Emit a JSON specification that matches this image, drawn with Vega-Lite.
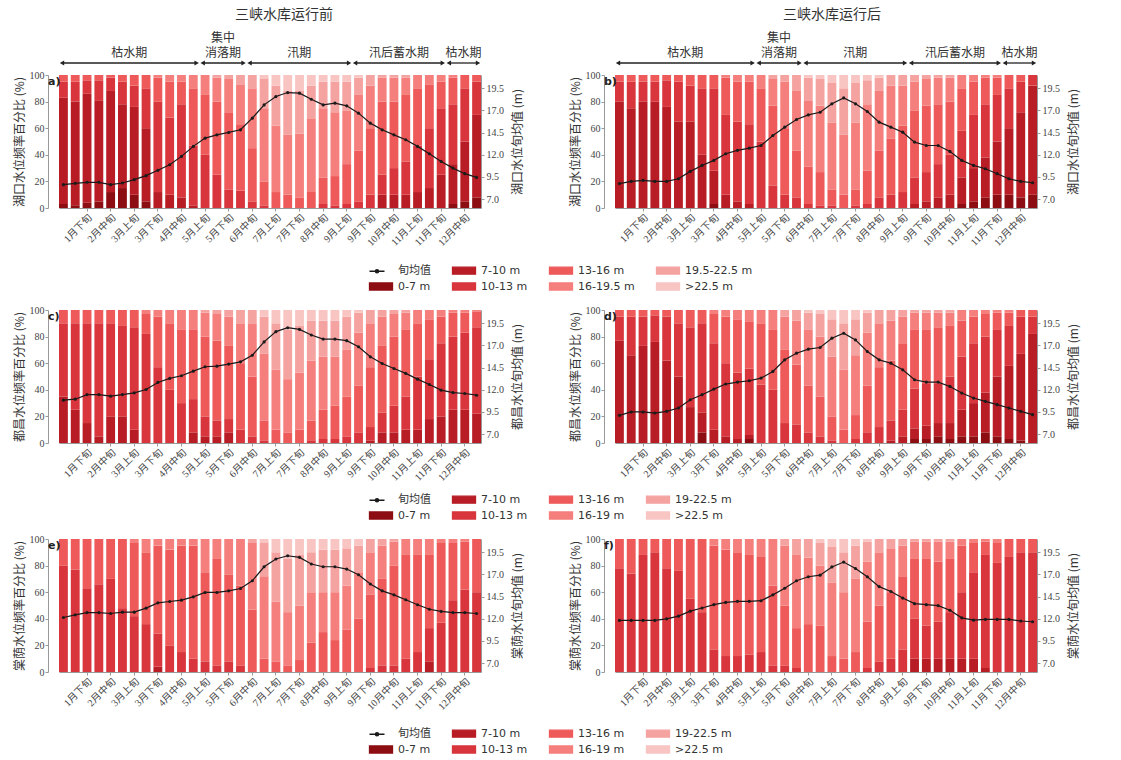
{
"$schema":"https://vega.github.io/schema/vega-lite/v6.json",
"padding":{"left":12,"top":8,"right":5,"bottom":5},
"config":{"view":{"stroke":null},"axis":{"grid":false,"domainColor":"#999","tickColor":"#999","labelColor":"#444","titleColor":"#333","labelFont":"Liberation Serif, Noto Sans CJK SC","titleFont":"Noto Sans CJK SC","titleFontWeight":"normal","labelFontSize":10,"titleFontSize":12,"tickSize":3,"labelOverlap":false,"labelBound":false},"title":{"font":"Noto Sans CJK SC","fontWeight":"normal","color":"#333"}},
"datasets":{
"periods":[{"k":1,"n":"枯水期","n2":"","s":0,"e":12},{"k":2,"n":"消落期","n2":"集中","s":12,"e":16},{"k":3,"n":"汛期","n2":"","s":16,"e":25},{"k":4,"n":"汛后蓄水期","n2":"","s":25,"e":33},{"k":5,"n":"枯水期","n2":"","s":33,"e":36}],
"bars":[
{"p":"a","d":"1月上旬","lv":8.63,"b1":3,"b2":80,"b3":12,"b4":5,"b5":0,"b6":0,"b7":0},
{"p":"a","d":"1月中旬","lv":8.78,"b1":2,"b2":78,"b3":15,"b4":5,"b5":0,"b6":0,"b7":0},
{"p":"a","d":"1月下旬","lv":8.9,"b1":4,"b2":82,"b3":10,"b4":4,"b5":0,"b6":0,"b7":0},
{"p":"a","d":"2月上旬","lv":8.9,"b1":5,"b2":76,"b3":15,"b4":4,"b5":0,"b6":0,"b7":0},
{"p":"a","d":"2月中旬","lv":8.63,"b1":12,"b2":76,"b3":10,"b4":2,"b5":0,"b6":0,"b7":0},
{"p":"a","d":"2月下旬","lv":8.82,"b1":15,"b2":63,"b3":17,"b4":5,"b5":0,"b6":0,"b7":0},
{"p":"a","d":"3月上旬","lv":9.2,"b1":10,"b2":66,"b3":16,"b4":8,"b5":0,"b6":0,"b7":0},
{"p":"a","d":"3月中旬","lv":9.65,"b1":5,"b2":55,"b3":30,"b4":10,"b5":0,"b6":0,"b7":0},
{"p":"a","d":"3月下旬","lv":10.25,"b1":0,"b2":12,"b3":68,"b4":18,"b5":2,"b6":0,"b7":0},
{"p":"a","d":"4月上旬","lv":10.88,"b1":0,"b2":10,"b3":58,"b4":27,"b5":5,"b6":0,"b7":0},
{"p":"a","d":"4月中旬","lv":11.82,"b1":0,"b2":8,"b3":70,"b4":17,"b5":5,"b6":0,"b7":0},
{"p":"a","d":"4月下旬","lv":12.95,"b1":0,"b2":2,"b3":45,"b4":43,"b5":10,"b6":0,"b7":0},
{"p":"a","d":"5月上旬","lv":13.88,"b1":0,"b2":0,"b3":40,"b4":45,"b5":15,"b6":0,"b7":0},
{"p":"a","d":"5月中旬","lv":14.25,"b1":0,"b2":0,"b3":25,"b4":55,"b5":18,"b6":2,"b7":0},
{"p":"a","d":"5月下旬","lv":14.52,"b1":0,"b2":0,"b3":14,"b4":58,"b5":25,"b6":3,"b7":0},
{"p":"a","d":"6月上旬","lv":14.82,"b1":0,"b2":0,"b3":13,"b4":50,"b5":30,"b6":7,"b7":0},
{"p":"a","d":"6月中旬","lv":16.13,"b1":0,"b2":0,"b3":5,"b4":40,"b5":45,"b6":10,"b7":0},
{"p":"a","d":"6月下旬","lv":17.63,"b1":0,"b2":0,"b3":2,"b4":18,"b5":55,"b6":22,"b7":3},
{"p":"a","d":"7月上旬","lv":18.57,"b1":0,"b2":0,"b3":0,"b4":12,"b5":50,"b6":30,"b7":8},
{"p":"a","d":"7月中旬","lv":19.02,"b1":0,"b2":0,"b3":0,"b4":10,"b5":45,"b6":33,"b7":12},
{"p":"a","d":"7月下旬","lv":18.95,"b1":0,"b2":0,"b3":0,"b4":8,"b5":48,"b6":32,"b7":12},
{"p":"a","d":"8月上旬","lv":18.27,"b1":0,"b2":0,"b3":0,"b4":12,"b5":55,"b6":25,"b7":8},
{"p":"a","d":"8月中旬","lv":17.63,"b1":0,"b2":0,"b3":3,"b4":20,"b5":52,"b6":20,"b7":5},
{"p":"a","d":"8月下旬","lv":17.82,"b1":0,"b2":0,"b3":2,"b4":22,"b5":48,"b6":23,"b7":5},
{"p":"a","d":"9月上旬","lv":17.52,"b1":0,"b2":0,"b3":3,"b4":30,"b5":40,"b6":22,"b7":5},
{"p":"a","d":"9月中旬","lv":16.7,"b1":0,"b2":0,"b3":5,"b4":38,"b5":42,"b6":13,"b7":2},
{"p":"a","d":"9月下旬","lv":15.57,"b1":0,"b2":0,"b3":10,"b4":50,"b5":32,"b6":8,"b7":0},
{"p":"a","d":"10月上旬","lv":14.82,"b1":0,"b2":10,"b3":15,"b4":55,"b5":18,"b6":2,"b7":0},
{"p":"a","d":"10月中旬","lv":14.25,"b1":0,"b2":10,"b3":20,"b4":50,"b5":18,"b6":2,"b7":0},
{"p":"a","d":"10月下旬","lv":13.7,"b1":0,"b2":10,"b3":25,"b4":50,"b5":13,"b6":2,"b7":0},
{"p":"a","d":"11月上旬","lv":12.95,"b1":0,"b2":12,"b3":35,"b4":43,"b5":10,"b6":0,"b7":0},
{"p":"a","d":"11月中旬","lv":12.12,"b1":0,"b2":15,"b3":45,"b4":33,"b5":7,"b6":0,"b7":0},
{"p":"a","d":"11月下旬","lv":11.25,"b1":0,"b2":25,"b3":50,"b4":20,"b5":5,"b6":0,"b7":0},
{"p":"a","d":"12月上旬","lv":10.5,"b1":3,"b2":30,"b3":45,"b4":20,"b5":2,"b6":0,"b7":0},
{"p":"a","d":"12月中旬","lv":9.87,"b1":5,"b2":45,"b3":40,"b4":10,"b5":0,"b6":0,"b7":0},
{"p":"a","d":"12月下旬","lv":9.45,"b1":8,"b2":62,"b3":25,"b4":5,"b5":0,"b6":0,"b7":0},
{"p":"b","d":"1月上旬","lv":8.75,"b1":0,"b2":80,"b3":15,"b4":5,"b5":0,"b6":0,"b7":0},
{"p":"b","d":"1月中旬","lv":9.0,"b1":0,"b2":75,"b3":20,"b4":5,"b5":0,"b6":0,"b7":0},
{"p":"b","d":"1月下旬","lv":9.12,"b1":0,"b2":80,"b3":15,"b4":5,"b5":0,"b6":0,"b7":0},
{"p":"b","d":"2月上旬","lv":9.0,"b1":0,"b2":80,"b3":15,"b4":5,"b5":0,"b6":0,"b7":0},
{"p":"b","d":"2月中旬","lv":9.0,"b1":0,"b2":76,"b3":20,"b4":4,"b5":0,"b6":0,"b7":0},
{"p":"b","d":"2月下旬","lv":9.3,"b1":0,"b2":65,"b3":30,"b4":5,"b5":0,"b6":0,"b7":0},
{"p":"b","d":"3月上旬","lv":10.13,"b1":0,"b2":65,"b3":27,"b4":8,"b5":0,"b6":0,"b7":0},
{"p":"b","d":"3月中旬","lv":10.8,"b1":0,"b2":40,"b3":50,"b4":10,"b5":0,"b6":0,"b7":0},
{"p":"b","d":"3月下旬","lv":11.37,"b1":3,"b2":25,"b3":62,"b4":10,"b5":0,"b6":0,"b7":0},
{"p":"b","d":"4月上旬","lv":12.12,"b1":0,"b2":10,"b3":60,"b4":28,"b5":2,"b6":0,"b7":0},
{"p":"b","d":"4月中旬","lv":12.5,"b1":0,"b2":5,"b3":60,"b4":30,"b5":5,"b6":0,"b7":0},
{"p":"b","d":"4月下旬","lv":12.75,"b1":0,"b2":3,"b3":60,"b4":32,"b5":5,"b6":0,"b7":0},
{"p":"b","d":"5月上旬","lv":13.05,"b1":0,"b2":0,"b3":50,"b4":40,"b5":10,"b6":0,"b7":0},
{"p":"b","d":"5月中旬","lv":14.18,"b1":0,"b2":0,"b3":17,"b4":60,"b5":20,"b6":3,"b7":0},
{"p":"b","d":"5月下旬","lv":15.12,"b1":0,"b2":0,"b3":10,"b4":50,"b5":35,"b6":5,"b7":0},
{"p":"b","d":"6月上旬","lv":15.98,"b1":0,"b2":0,"b3":8,"b4":35,"b5":45,"b6":12,"b7":0},
{"p":"b","d":"6月中旬","lv":16.5,"b1":0,"b2":0,"b3":3,"b4":28,"b5":50,"b6":17,"b7":2},
{"p":"b","d":"6月下旬","lv":16.8,"b1":0,"b2":0,"b3":2,"b4":25,"b5":50,"b6":20,"b7":3},
{"p":"b","d":"7月上旬","lv":17.75,"b1":0,"b2":0,"b3":2,"b4":12,"b5":50,"b6":30,"b7":6},
{"p":"b","d":"7月中旬","lv":18.42,"b1":0,"b2":0,"b3":0,"b4":10,"b5":45,"b6":35,"b7":10},
{"p":"b","d":"7月下旬","lv":17.75,"b1":0,"b2":0,"b3":2,"b4":12,"b5":50,"b6":30,"b7":6},
{"p":"b","d":"8月上旬","lv":16.88,"b1":0,"b2":0,"b3":3,"b4":25,"b5":50,"b6":18,"b7":4},
{"p":"b","d":"8月中旬","lv":15.68,"b1":0,"b2":0,"b3":8,"b4":35,"b5":45,"b6":10,"b7":2},
{"p":"b","d":"8月下旬","lv":15.12,"b1":0,"b2":0,"b3":10,"b4":42,"b5":40,"b6":8,"b7":0},
{"p":"b","d":"9月上旬","lv":14.55,"b1":0,"b2":0,"b3":12,"b4":50,"b5":30,"b6":8,"b7":0},
{"p":"b","d":"9月中旬","lv":13.43,"b1":0,"b2":3,"b3":20,"b4":50,"b5":22,"b6":5,"b7":0},
{"p":"b","d":"9月下旬","lv":13.05,"b1":0,"b2":5,"b3":22,"b4":50,"b5":20,"b6":3,"b7":0},
{"p":"b","d":"10月上旬","lv":13.05,"b1":0,"b2":8,"b3":25,"b4":45,"b5":20,"b6":2,"b7":0},
{"p":"b","d":"10月中旬","lv":12.38,"b1":0,"b2":10,"b3":30,"b4":40,"b5":18,"b6":2,"b7":0},
{"p":"b","d":"10月下旬","lv":11.37,"b1":3,"b2":20,"b3":35,"b4":32,"b5":10,"b6":0,"b7":0},
{"p":"b","d":"11月上旬","lv":10.8,"b1":5,"b2":25,"b3":40,"b4":25,"b5":5,"b6":0,"b7":0},
{"p":"b","d":"11月中旬","lv":10.43,"b1":8,"b2":30,"b3":40,"b4":20,"b5":2,"b6":0,"b7":0},
{"p":"b","d":"11月下旬","lv":9.87,"b1":10,"b2":40,"b3":35,"b4":13,"b5":2,"b6":0,"b7":0},
{"p":"b","d":"12月上旬","lv":9.3,"b1":10,"b2":50,"b3":30,"b4":10,"b5":0,"b6":0,"b7":0},
{"p":"b","d":"12月中旬","lv":9.0,"b1":8,"b2":64,"b3":23,"b4":5,"b5":0,"b6":0,"b7":0},
{"p":"b","d":"12月下旬","lv":8.85,"b1":10,"b2":82,"b3":8,"b4":0,"b5":0,"b6":0,"b7":0},
{"p":"c","d":"1月上旬","lv":10.83,"b1":0,"b2":35,"b3":55,"b4":10,"b5":0,"b6":0,"b7":0},
{"p":"c","d":"1月中旬","lv":10.94,"b1":0,"b2":25,"b3":65,"b4":10,"b5":0,"b6":0,"b7":0},
{"p":"c","d":"1月下旬","lv":11.46,"b1":0,"b2":15,"b3":75,"b4":10,"b5":0,"b6":0,"b7":0},
{"p":"c","d":"2月上旬","lv":11.46,"b1":0,"b2":5,"b3":85,"b4":10,"b5":0,"b6":0,"b7":0},
{"p":"c","d":"2月中旬","lv":11.28,"b1":0,"b2":20,"b3":70,"b4":10,"b5":0,"b6":0,"b7":0},
{"p":"c","d":"2月下旬","lv":11.46,"b1":0,"b2":20,"b3":68,"b4":12,"b5":0,"b6":0,"b7":0},
{"p":"c","d":"3月上旬","lv":11.66,"b1":0,"b2":10,"b3":77,"b4":13,"b5":0,"b6":0,"b7":0},
{"p":"c","d":"3月中旬","lv":12.03,"b1":0,"b2":0,"b3":82,"b4":15,"b5":3,"b6":0,"b7":0},
{"p":"c","d":"3月下旬","lv":12.83,"b1":0,"b2":0,"b3":57,"b4":38,"b5":5,"b6":0,"b7":0},
{"p":"c","d":"4月上旬","lv":13.28,"b1":0,"b2":0,"b3":40,"b4":50,"b5":10,"b6":0,"b7":0},
{"p":"c","d":"4月中旬","lv":13.58,"b1":0,"b2":0,"b3":30,"b4":55,"b5":15,"b6":0,"b7":0},
{"p":"c","d":"4月下旬","lv":14.1,"b1":0,"b2":8,"b3":25,"b4":52,"b5":15,"b6":0,"b7":0},
{"p":"c","d":"5月上旬","lv":14.6,"b1":0,"b2":5,"b3":15,"b4":60,"b5":18,"b6":2,"b7":0},
{"p":"c","d":"5月中旬","lv":14.67,"b1":0,"b2":5,"b3":12,"b4":60,"b5":20,"b6":3,"b7":0},
{"p":"c","d":"5月下旬","lv":14.9,"b1":0,"b2":8,"b3":10,"b4":55,"b5":22,"b6":5,"b7":0},
{"p":"c","d":"6月上旬","lv":15.15,"b1":0,"b2":0,"b3":10,"b4":50,"b5":30,"b6":10,"b7":0},
{"p":"c","d":"6月中旬","lv":15.9,"b1":0,"b2":0,"b3":5,"b4":45,"b5":40,"b6":10,"b7":0},
{"p":"c","d":"6月下旬","lv":17.4,"b1":0,"b2":0,"b3":2,"b4":15,"b5":50,"b6":28,"b7":5},
{"p":"c","d":"7月上旬","lv":18.56,"b1":0,"b2":0,"b3":0,"b4":10,"b5":45,"b6":35,"b7":10},
{"p":"c","d":"7月中旬","lv":19.0,"b1":0,"b2":0,"b3":0,"b4":8,"b5":40,"b6":37,"b7":15},
{"p":"c","d":"7月下旬","lv":18.81,"b1":0,"b2":0,"b3":0,"b4":10,"b5":43,"b6":35,"b7":12},
{"p":"c","d":"8月上旬","lv":18.18,"b1":0,"b2":0,"b3":2,"b4":15,"b5":45,"b6":30,"b7":8},
{"p":"c","d":"8月中旬","lv":17.72,"b1":0,"b2":0,"b3":3,"b4":22,"b5":40,"b6":27,"b7":8},
{"p":"c","d":"8月下旬","lv":17.72,"b1":0,"b2":0,"b3":3,"b4":25,"b5":37,"b6":27,"b7":8},
{"p":"c","d":"9月上旬","lv":17.54,"b1":0,"b2":0,"b3":5,"b4":30,"b5":35,"b6":25,"b7":5},
{"p":"c","d":"9月中旬","lv":16.86,"b1":0,"b2":0,"b3":8,"b4":35,"b5":40,"b6":15,"b7":2},
{"p":"c","d":"9月下旬","lv":15.72,"b1":0,"b2":2,"b3":10,"b4":45,"b5":33,"b6":10,"b7":0},
{"p":"c","d":"10月上旬","lv":14.97,"b1":0,"b2":8,"b3":15,"b4":50,"b5":22,"b6":5,"b7":0},
{"p":"c","d":"10月中旬","lv":14.4,"b1":0,"b2":8,"b3":20,"b4":52,"b5":17,"b6":3,"b7":0},
{"p":"c","d":"10月下旬","lv":13.85,"b1":0,"b2":10,"b3":25,"b4":50,"b5":13,"b6":2,"b7":0},
{"p":"c","d":"11月上旬","lv":13.2,"b1":0,"b2":10,"b3":40,"b4":40,"b5":10,"b6":0,"b7":0},
{"p":"c","d":"11月中旬","lv":12.6,"b1":0,"b2":18,"b3":45,"b4":30,"b5":7,"b6":0,"b7":0},
{"p":"c","d":"11月下旬","lv":11.96,"b1":0,"b2":20,"b3":55,"b4":20,"b5":5,"b6":0,"b7":0},
{"p":"c","d":"12月上旬","lv":11.69,"b1":0,"b2":25,"b3":55,"b4":18,"b5":2,"b6":0,"b7":0},
{"p":"c","d":"12月中旬","lv":11.58,"b1":0,"b2":25,"b3":58,"b4":15,"b5":2,"b6":0,"b7":0},
{"p":"c","d":"12月下旬","lv":11.39,"b1":0,"b2":22,"b3":65,"b4":12,"b5":1,"b6":0,"b7":0},
{"p":"d","d":"1月上旬","lv":9.12,"b1":0,"b2":77,"b3":18,"b4":5,"b5":0,"b6":0,"b7":0},
{"p":"d","d":"1月中旬","lv":9.5,"b1":0,"b2":66,"b3":29,"b4":5,"b5":0,"b6":0,"b7":0},
{"p":"d","d":"1月下旬","lv":9.5,"b1":0,"b2":73,"b3":22,"b4":5,"b5":0,"b6":0,"b7":0},
{"p":"d","d":"2月上旬","lv":9.38,"b1":0,"b2":76,"b3":20,"b4":4,"b5":0,"b6":0,"b7":0},
{"p":"d","d":"2月中旬","lv":9.57,"b1":0,"b2":62,"b3":33,"b4":5,"b5":0,"b6":0,"b7":0},
{"p":"d","d":"2月下旬","lv":9.95,"b1":0,"b2":50,"b3":40,"b4":10,"b5":0,"b6":0,"b7":0},
{"p":"d","d":"3月上旬","lv":10.88,"b1":0,"b2":27,"b3":60,"b4":13,"b5":0,"b6":0,"b7":0},
{"p":"d","d":"3月中旬","lv":11.45,"b1":8,"b2":15,"b3":67,"b4":10,"b5":0,"b6":0,"b7":0},
{"p":"d","d":"3月下旬","lv":12.08,"b1":0,"b2":10,"b3":65,"b4":22,"b5":3,"b6":0,"b7":0},
{"p":"d","d":"4月上旬","lv":12.65,"b1":0,"b2":5,"b3":55,"b4":35,"b5":5,"b6":0,"b7":0},
{"p":"d","d":"4月中旬","lv":12.87,"b1":0,"b2":3,"b3":50,"b4":40,"b5":7,"b6":0,"b7":0},
{"p":"d","d":"4月下旬","lv":13.02,"b1":3,"b2":3,"b3":50,"b4":35,"b5":9,"b6":0,"b7":0},
{"p":"d","d":"5月上旬","lv":13.32,"b1":0,"b2":0,"b3":44,"b4":46,"b5":10,"b6":0,"b7":0},
{"p":"d","d":"5月中旬","lv":14.07,"b1":0,"b2":0,"b3":40,"b4":45,"b5":15,"b6":0,"b7":0},
{"p":"d","d":"5月下旬","lv":15.38,"b1":0,"b2":0,"b3":15,"b4":55,"b5":25,"b6":5,"b7":0},
{"p":"d","d":"6月上旬","lv":16.13,"b1":0,"b2":0,"b3":14,"b4":45,"b5":33,"b6":8,"b7":0},
{"p":"d","d":"6月中旬","lv":16.58,"b1":0,"b2":0,"b3":8,"b4":35,"b5":42,"b6":13,"b7":2},
{"p":"d","d":"6月下旬","lv":16.77,"b1":0,"b2":0,"b3":5,"b4":30,"b5":45,"b6":17,"b7":3},
{"p":"d","d":"7月上旬","lv":17.82,"b1":0,"b2":0,"b3":2,"b4":18,"b5":45,"b6":28,"b7":7},
{"p":"d","d":"7月中旬","lv":18.38,"b1":0,"b2":0,"b3":0,"b4":10,"b5":45,"b6":35,"b7":10},
{"p":"d","d":"7月下旬","lv":17.63,"b1":0,"b2":0,"b3":3,"b4":18,"b5":45,"b6":27,"b7":7},
{"p":"d","d":"8月上旬","lv":16.32,"b1":0,"b2":0,"b3":8,"b4":35,"b5":40,"b6":15,"b7":2},
{"p":"d","d":"8月中旬","lv":15.38,"b1":0,"b2":0,"b3":12,"b4":45,"b5":33,"b6":10,"b7":0},
{"p":"d","d":"8月下旬","lv":15.0,"b1":0,"b2":2,"b3":15,"b4":45,"b5":30,"b6":8,"b7":0},
{"p":"d","d":"9月上旬","lv":14.25,"b1":0,"b2":5,"b3":20,"b4":50,"b5":20,"b6":5,"b7":0},
{"p":"d","d":"9月中旬","lv":13.13,"b1":3,"b2":8,"b3":30,"b4":44,"b5":13,"b6":2,"b7":0},
{"p":"d","d":"9月下旬","lv":12.87,"b1":3,"b2":10,"b3":32,"b4":40,"b5":13,"b6":2,"b7":0},
{"p":"d","d":"10月上旬","lv":12.87,"b1":5,"b2":10,"b3":30,"b4":42,"b5":11,"b6":2,"b7":0},
{"p":"d","d":"10月中旬","lv":12.38,"b1":3,"b2":12,"b3":35,"b4":38,"b5":10,"b6":2,"b7":0},
{"p":"d","d":"10月下旬","lv":11.63,"b1":5,"b2":20,"b3":40,"b4":27,"b5":8,"b6":0,"b7":0},
{"p":"d","d":"11月上旬","lv":11.07,"b1":5,"b2":25,"b3":45,"b4":20,"b5":5,"b6":0,"b7":0},
{"p":"d","d":"11月中旬","lv":10.7,"b1":8,"b2":30,"b3":42,"b4":17,"b5":3,"b6":0,"b7":0},
{"p":"d","d":"11月下旬","lv":10.32,"b1":5,"b2":45,"b3":35,"b4":13,"b5":2,"b6":0,"b7":0},
{"p":"d","d":"12月上旬","lv":9.95,"b1":3,"b2":55,"b3":30,"b4":10,"b5":2,"b6":0,"b7":0},
{"p":"d","d":"12月中旬","lv":9.57,"b1":2,"b2":65,"b3":28,"b4":5,"b5":0,"b6":0,"b7":0},
{"p":"d","d":"12月下旬","lv":9.2,"b1":0,"b2":82,"b3":13,"b4":5,"b5":0,"b6":0,"b7":0},
{"p":"e","d":"1月上旬","lv":12.15,"b1":0,"b2":0,"b3":80,"b4":20,"b5":0,"b6":0,"b7":0},
{"p":"e","d":"1月中旬","lv":12.45,"b1":0,"b2":0,"b3":77,"b4":23,"b5":0,"b6":0,"b7":0},
{"p":"e","d":"1月下旬","lv":12.7,"b1":0,"b2":0,"b3":63,"b4":37,"b5":0,"b6":0,"b7":0},
{"p":"e","d":"2月上旬","lv":12.7,"b1":0,"b2":0,"b3":66,"b4":34,"b5":0,"b6":0,"b7":0},
{"p":"e","d":"2月中旬","lv":12.6,"b1":0,"b2":0,"b3":70,"b4":30,"b5":0,"b6":0,"b7":0},
{"p":"e","d":"2月下旬","lv":12.75,"b1":0,"b2":0,"b3":48,"b4":52,"b5":0,"b6":0,"b7":0},
{"p":"e","d":"3月上旬","lv":12.75,"b1":0,"b2":0,"b3":42,"b4":55,"b5":3,"b6":0,"b7":0},
{"p":"e","d":"3月中旬","lv":13.2,"b1":0,"b2":0,"b3":36,"b4":54,"b5":10,"b6":0,"b7":0},
{"p":"e","d":"3月下旬","lv":13.8,"b1":0,"b2":4,"b3":25,"b4":66,"b5":5,"b6":0,"b7":0},
{"p":"e","d":"4月上旬","lv":13.95,"b1":0,"b2":0,"b3":20,"b4":72,"b5":8,"b6":0,"b7":0},
{"p":"e","d":"4月中旬","lv":14.1,"b1":0,"b2":0,"b3":15,"b4":80,"b5":5,"b6":0,"b7":0},
{"p":"e","d":"4月下旬","lv":14.48,"b1":0,"b2":0,"b3":10,"b4":85,"b5":5,"b6":0,"b7":0},
{"p":"e","d":"5月上旬","lv":14.97,"b1":0,"b2":0,"b3":8,"b4":67,"b5":25,"b6":0,"b7":0},
{"p":"e","d":"5月中旬","lv":14.97,"b1":0,"b2":0,"b3":5,"b4":80,"b5":15,"b6":0,"b7":0},
{"p":"e","d":"5月下旬","lv":15.15,"b1":0,"b2":0,"b3":8,"b4":65,"b5":27,"b6":0,"b7":0},
{"p":"e","d":"6月上旬","lv":15.42,"b1":0,"b2":0,"b3":5,"b4":60,"b5":35,"b6":0,"b7":0},
{"p":"e","d":"6月中旬","lv":16.29,"b1":0,"b2":0,"b3":0,"b4":47,"b5":50,"b6":3,"b7":0},
{"p":"e","d":"6月下旬","lv":17.87,"b1":0,"b2":0,"b3":0,"b4":10,"b5":62,"b6":25,"b7":3},
{"p":"e","d":"7月上旬","lv":18.74,"b1":0,"b2":0,"b3":0,"b4":8,"b5":45,"b6":37,"b7":10},
{"p":"e","d":"7月中旬","lv":19.11,"b1":0,"b2":0,"b3":0,"b4":5,"b5":40,"b6":40,"b7":15},
{"p":"e","d":"7月下旬","lv":18.93,"b1":0,"b2":0,"b3":0,"b4":9,"b5":41,"b6":38,"b7":12},
{"p":"e","d":"8月上旬","lv":18.18,"b1":0,"b2":0,"b3":0,"b4":22,"b5":38,"b6":30,"b7":10},
{"p":"e","d":"8月中旬","lv":17.87,"b1":0,"b2":0,"b3":0,"b4":30,"b5":30,"b6":32,"b7":8},
{"p":"e","d":"8月下旬","lv":17.87,"b1":0,"b2":0,"b3":0,"b4":24,"b5":36,"b6":32,"b7":8},
{"p":"e","d":"9月上旬","lv":17.61,"b1":0,"b2":0,"b3":0,"b4":32,"b5":33,"b6":28,"b7":7},
{"p":"e","d":"9月中旬","lv":16.97,"b1":0,"b2":0,"b3":0,"b4":40,"b5":35,"b6":20,"b7":5},
{"p":"e","d":"9月下旬","lv":15.92,"b1":0,"b2":0,"b3":3,"b4":55,"b5":32,"b6":10,"b7":0},
{"p":"e","d":"10月上旬","lv":15.15,"b1":0,"b2":0,"b3":5,"b4":65,"b5":25,"b6":5,"b7":0},
{"p":"e","d":"10月中旬","lv":14.7,"b1":0,"b2":0,"b3":5,"b4":75,"b5":18,"b6":2,"b7":0},
{"p":"e","d":"10月下旬","lv":14.15,"b1":0,"b2":0,"b3":10,"b4":78,"b5":12,"b6":0,"b7":0},
{"p":"e","d":"11月上旬","lv":13.58,"b1":0,"b2":0,"b3":15,"b4":73,"b5":12,"b6":0,"b7":0},
{"p":"e","d":"11月中旬","lv":13.08,"b1":0,"b2":8,"b3":25,"b4":55,"b5":12,"b6":0,"b7":0},
{"p":"e","d":"11月下旬","lv":12.83,"b1":0,"b2":0,"b3":37,"b4":60,"b5":3,"b6":0,"b7":0},
{"p":"e","d":"12月上旬","lv":12.7,"b1":0,"b2":0,"b3":54,"b4":43,"b5":3,"b6":0,"b7":0},
{"p":"e","d":"12月中旬","lv":12.7,"b1":0,"b2":0,"b3":62,"b4":36,"b5":2,"b6":0,"b7":0},
{"p":"e","d":"12月下旬","lv":12.6,"b1":0,"b2":0,"b3":60,"b4":40,"b5":0,"b6":0,"b7":0},
{"p":"f","d":"1月上旬","lv":11.82,"b1":0,"b2":0,"b3":78,"b4":22,"b5":0,"b6":0,"b7":0},
{"p":"f","d":"1月中旬","lv":11.82,"b1":0,"b2":0,"b3":74,"b4":26,"b5":0,"b6":0,"b7":0},
{"p":"f","d":"1月下旬","lv":11.82,"b1":0,"b2":0,"b3":88,"b4":12,"b5":0,"b6":0,"b7":0},
{"p":"f","d":"2月上旬","lv":11.82,"b1":0,"b2":0,"b3":90,"b4":10,"b5":0,"b6":0,"b7":0},
{"p":"f","d":"2月中旬","lv":12.0,"b1":0,"b2":0,"b3":78,"b4":22,"b5":0,"b6":0,"b7":0},
{"p":"f","d":"2月下旬","lv":12.3,"b1":0,"b2":0,"b3":76,"b4":24,"b5":0,"b6":0,"b7":0},
{"p":"f","d":"3月上旬","lv":12.86,"b1":0,"b2":0,"b3":55,"b4":45,"b5":0,"b6":0,"b7":0},
{"p":"f","d":"3月中旬","lv":13.22,"b1":0,"b2":0,"b3":45,"b4":55,"b5":0,"b6":0,"b7":0},
{"p":"f","d":"3月下旬","lv":13.59,"b1":0,"b2":0,"b3":17,"b4":78,"b5":5,"b6":0,"b7":0},
{"p":"f","d":"4月上旬","lv":13.85,"b1":0,"b2":0,"b3":12,"b4":80,"b5":8,"b6":0,"b7":0},
{"p":"f","d":"4月中旬","lv":13.97,"b1":0,"b2":0,"b3":12,"b4":78,"b5":10,"b6":0,"b7":0},
{"p":"f","d":"4月下旬","lv":13.97,"b1":0,"b2":0,"b3":13,"b4":75,"b5":12,"b6":0,"b7":0},
{"p":"f","d":"5月上旬","lv":14.04,"b1":0,"b2":0,"b3":15,"b4":72,"b5":13,"b6":0,"b7":0},
{"p":"f","d":"5月中旬","lv":14.7,"b1":0,"b2":0,"b3":5,"b4":60,"b5":35,"b6":0,"b7":0},
{"p":"f","d":"5月下旬","lv":15.45,"b1":0,"b2":0,"b3":5,"b4":45,"b5":45,"b6":5,"b7":0},
{"p":"f","d":"6月上旬","lv":16.29,"b1":0,"b2":0,"b3":3,"b4":30,"b5":55,"b6":12,"b7":0},
{"p":"f","d":"6月中旬","lv":16.74,"b1":0,"b2":0,"b3":0,"b4":36,"b5":50,"b6":14,"b7":0},
{"p":"f","d":"6月下旬","lv":16.92,"b1":0,"b2":0,"b3":0,"b4":35,"b5":45,"b6":17,"b7":3},
{"p":"f","d":"7月上旬","lv":17.85,"b1":0,"b2":0,"b3":0,"b4":12,"b5":55,"b6":27,"b7":6},
{"p":"f","d":"7月中旬","lv":18.4,"b1":0,"b2":0,"b3":0,"b4":10,"b5":50,"b6":30,"b7":10},
{"p":"f","d":"7月下旬","lv":17.67,"b1":0,"b2":0,"b3":0,"b4":15,"b5":55,"b6":25,"b7":5},
{"p":"f","d":"8月上旬","lv":16.74,"b1":0,"b2":0,"b3":3,"b4":35,"b5":45,"b6":15,"b7":2},
{"p":"f","d":"8月中旬","lv":15.63,"b1":0,"b2":0,"b3":8,"b4":42,"b5":40,"b6":10,"b7":0},
{"p":"f","d":"8月下旬","lv":15.08,"b1":0,"b2":0,"b3":10,"b4":50,"b5":33,"b6":7,"b7":0},
{"p":"f","d":"9月上旬","lv":14.34,"b1":0,"b2":0,"b3":17,"b4":55,"b5":23,"b6":5,"b7":0},
{"p":"f","d":"9月中旬","lv":13.71,"b1":0,"b2":10,"b3":30,"b4":45,"b5":13,"b6":2,"b7":0},
{"p":"f","d":"9月下旬","lv":13.59,"b1":0,"b2":10,"b3":25,"b4":50,"b5":13,"b6":2,"b7":0},
{"p":"f","d":"10月上旬","lv":13.49,"b1":0,"b2":10,"b3":28,"b4":45,"b5":15,"b6":2,"b7":0},
{"p":"f","d":"10月中旬","lv":12.96,"b1":0,"b2":10,"b3":35,"b4":40,"b5":13,"b6":2,"b7":0},
{"p":"f","d":"10月下旬","lv":12.11,"b1":0,"b2":10,"b3":50,"b4":35,"b5":5,"b6":0,"b7":0},
{"p":"f","d":"11月上旬","lv":11.85,"b1":0,"b2":10,"b3":65,"b4":22,"b5":3,"b6":0,"b7":0},
{"p":"f","d":"11月中旬","lv":11.93,"b1":0,"b2":3,"b3":85,"b4":10,"b5":2,"b6":0,"b7":0},
{"p":"f","d":"11月下旬","lv":11.93,"b1":0,"b2":0,"b3":82,"b4":15,"b5":3,"b6":0,"b7":0},
{"p":"f","d":"12月上旬","lv":11.93,"b1":0,"b2":0,"b3":87,"b4":13,"b5":0,"b6":0,"b7":0},
{"p":"f","d":"12月中旬","lv":11.75,"b1":0,"b2":0,"b3":90,"b4":10,"b5":0,"b6":0,"b7":0},
{"p":"f","d":"12月下旬","lv":11.67,"b1":0,"b2":0,"b3":90,"b4":10,"b5":0,"b6":0,"b7":0}
]},
"vconcat":[
 {"concat":[
   {"width":422,"height":24,"data":{"name":"periods"},
    "title":{"text":"三峡水库运行前","frame":"group","offset":10,"fontSize":14,"dx":14},
    "layer":[
     {"mark":{"type":"rule","strokeWidth":1.3,"color":"#222","xOffset":3,"x2Offset":-3},"encoding":{"x":{"field":"s","type":"quantitative","scale":{"domain":[0,36],"nice":false,"zero":false},"axis":null},"x2":{"field":"e"}}},
     {"mark":{"type":"point","shape":"triangle-left","filled":true,"size":26,"color":"#222","opacity":1,"xOffset":3},"encoding":{"x":{"field":"s","type":"quantitative","scale":{"domain":[0,36],"nice":false,"zero":false},"axis":null}}},
     {"mark":{"type":"point","shape":"triangle-right","filled":true,"size":26,"color":"#222","opacity":1,"xOffset":-3},"encoding":{"x":{"field":"e","type":"quantitative","scale":{"domain":[0,36],"nice":false,"zero":false},"axis":null}}},
     {"transform":[{"fold":["s","e"],"as":["w","v"]}],"mark":{"type":"text","baseline":"bottom","dy":-3,"fontSize":12,"font":"Noto Sans CJK SC","color":"#333"},"encoding":{"x":{"aggregate":"mean","field":"v","type":"quantitative","scale":{"domain":[0,36],"nice":false,"zero":false},"axis":null},"text":{"field":"n","type":"nominal"},"detail":{"field":"k","type":"nominal"}}},
     {"transform":[{"fold":["s","e"],"as":["w","v"]}],"mark":{"type":"text","baseline":"bottom","dy":-18,"fontSize":12,"font":"Noto Sans CJK SC","color":"#333"},"encoding":{"x":{"aggregate":"mean","field":"v","type":"quantitative","scale":{"domain":[0,36],"nice":false,"zero":false},"axis":null},"text":{"field":"n2","type":"nominal"},"detail":{"field":"k","type":"nominal"}}}
    ]},
   {"width":422,"height":24,"data":{"name":"periods"},
    "title":{"text":"三峡水库运行后","frame":"group","offset":10,"fontSize":14,"dx":6},
    "layer":[
     {"mark":{"type":"rule","strokeWidth":1.3,"color":"#222","xOffset":3,"x2Offset":-3},"encoding":{"x":{"field":"s","type":"quantitative","scale":{"domain":[0,36],"nice":false,"zero":false},"axis":null},"x2":{"field":"e"}}},
     {"mark":{"type":"point","shape":"triangle-left","filled":true,"size":26,"color":"#222","opacity":1,"xOffset":3},"encoding":{"x":{"field":"s","type":"quantitative","scale":{"domain":[0,36],"nice":false,"zero":false},"axis":null}}},
     {"mark":{"type":"point","shape":"triangle-right","filled":true,"size":26,"color":"#222","opacity":1,"xOffset":-3},"encoding":{"x":{"field":"e","type":"quantitative","scale":{"domain":[0,36],"nice":false,"zero":false},"axis":null}}},
     {"transform":[{"fold":["s","e"],"as":["w","v"]}],"mark":{"type":"text","baseline":"bottom","dy":-3,"fontSize":12,"font":"Noto Sans CJK SC","color":"#333"},"encoding":{"x":{"aggregate":"mean","field":"v","type":"quantitative","scale":{"domain":[0,36],"nice":false,"zero":false},"axis":null},"text":{"field":"n","type":"nominal"},"detail":{"field":"k","type":"nominal"}}},
     {"transform":[{"fold":["s","e"],"as":["w","v"]}],"mark":{"type":"text","baseline":"bottom","dy":-18,"fontSize":12,"font":"Noto Sans CJK SC","color":"#333"},"encoding":{"x":{"aggregate":"mean","field":"v","type":"quantitative","scale":{"domain":[0,36],"nice":false,"zero":false},"axis":null},"text":{"field":"n2","type":"nominal"},"detail":{"field":"k","type":"nominal"}}}
    ]},
   {"width":422,"height":133,"data":{"name":"bars"},"transform":[{"filter":"datum.p==='a'"}],
    "title":{"text":"a)","anchor":"start","frame":"group","offset":-17,"dx":-11,"fontSize":11,"fontWeight":"bold","font":"DejaVu Sans","color":"#222"},
    "layer":[
     {"transform":[{"fold":["b1","b2","b3","b4","b5","b6","b7"],"as":["band","pct"]}],"mark":{"type":"bar"},
      "encoding":{
       "x":{"field":"d","type":"ordinal","scale":{"domain":["1月上旬","1月中旬","1月下旬","2月上旬","2月中旬","2月下旬","3月上旬","3月中旬","3月下旬","4月上旬","4月中旬","4月下旬","5月上旬","5月中旬","5月下旬","6月上旬","6月中旬","6月下旬","7月上旬","7月中旬","7月下旬","8月上旬","8月中旬","8月下旬","9月上旬","9月中旬","9月下旬","10月上旬","10月中旬","10月下旬","11月上旬","11月中旬","11月下旬","12月上旬","12月中旬","12月下旬"],"paddingInner":0.25,"paddingOuter":0},"axis":{"values":["1月上旬","1月下旬","2月中旬","3月上旬","3月下旬","4月中旬","5月上旬","5月下旬","6月中旬","7月上旬","7月下旬","8月中旬","9月上旬","9月下旬","10月中旬","11月上旬","11月下旬","12月中旬"],"labelAngle":-45,"title":null,"labelPadding":1}},
       "y":{"field":"pct","type":"quantitative","stack":"zero","scale":{"domain":[0,100],"nice":false},"axis":{"values":[0,20,40,60,80,100],"title":"湖口水位频率百分比 (%)","offset":11,"labelPadding":1,"titlePadding":3}},
       "color":{"field":"band","type":"nominal","scale":{"domain":["旬均值","b1","b2","b3","b4","b5","b6","b7"],"range":["#1a1a1a","#8c0d12","#b81c24","#d8353c","#ee5a5a","#f57f7d","#f5a3a1","#f8c5c3"]},
        "legend":{"title":null,"orient":"none","legendX":309,"legendY":214,"direction":"vertical","columns":4,"columnPadding":18,"rowPadding":3,"symbolSize":64,"symbolType":"M-1,-0.875L4.75,-0.875L4.75,0.875L-1,0.875Z","labelOffset":19,"labelFontSize":11,"labelFont":"DejaVu Sans, Noto Sans CJK SC","labelColor":"#333","labelLimit":200,
         "labelExpr":"datum.label==='旬均值'?'旬均值':['0-7 m','7-10 m','10-13 m','13-16 m','16-19.5 m','19.5-22.5 m','>22.5 m'][toNumber(substring(datum.label,1))-1]",
         "encode":{"symbols":{"update":{"shape":{"signal":"datum.value==='旬均值'?'M-1,0L2.75,0M1.275,0A0.4,0.4,0,1,1,0.475,0A0.4,0.4,0,1,1,1.275,0Z':'M-1,-0.875L4.75,-0.875L4.75,0.875L-1,0.875Z'"},"fill":{"signal":"datum.value==='旬均值'?'#1a1a1a':datum.value==='b1'?'#8c0d12':datum.value==='b2'?'#b81c24':datum.value==='b3'?'#d8353c':datum.value==='b4'?'#ee5a5a':datum.value==='b5'?'#f57f7d':datum.value==='b6'?'#f5a3a1':'#f8c5c3'"},"stroke":{"signal":"datum.value==='旬均值'?'#1a1a1a':'transparent'"},"strokeWidth":{"value":1.3},"opacity":{"value":1}}}}}},
       "order":{"field":"band","type":"ordinal","sort":"ascending"}}},
     {"mark":{"type":"line","strokeWidth":1.2,"point":{"filled":true,"size":10}},
      "encoding":{
       "x":{"field":"d","type":"ordinal"},
       "y":{"field":"lv","type":"quantitative","scale":{"domain":[6,21],"nice":false,"zero":false},"axis":{"orient":"right","values":[7,9.5,12,14.5,17,19.5],"format":".1f","title":"湖口水位旬均值 (m)","titleAngle":270,"titleBaseline":"top","labelPadding":2,"titlePadding":9}},
       "color":{"datum":"旬均值","type":"nominal"}}}
    ],"resolve":{"scale":{"y":"independent"}}},
   {"width":422,"height":133,"data":{"name":"bars"},"transform":[{"filter":"datum.p==='b'"}],
    "title":{"text":"b)","anchor":"start","frame":"group","offset":-17,"dx":-11,"fontSize":11,"fontWeight":"bold","font":"DejaVu Sans","color":"#222"},
    "layer":[
     {"transform":[{"fold":["b1","b2","b3","b4","b5","b6","b7"],"as":["band","pct"]}],"mark":{"type":"bar"},
      "encoding":{
       "x":{"field":"d","type":"ordinal","scale":{"domain":["1月上旬","1月中旬","1月下旬","2月上旬","2月中旬","2月下旬","3月上旬","3月中旬","3月下旬","4月上旬","4月中旬","4月下旬","5月上旬","5月中旬","5月下旬","6月上旬","6月中旬","6月下旬","7月上旬","7月中旬","7月下旬","8月上旬","8月中旬","8月下旬","9月上旬","9月中旬","9月下旬","10月上旬","10月中旬","10月下旬","11月上旬","11月中旬","11月下旬","12月上旬","12月中旬","12月下旬"],"paddingInner":0.25,"paddingOuter":0},"axis":{"values":["1月上旬","1月下旬","2月中旬","3月上旬","3月下旬","4月中旬","5月上旬","5月下旬","6月中旬","7月上旬","7月下旬","8月中旬","9月上旬","9月下旬","10月中旬","11月上旬","11月下旬","12月中旬"],"labelAngle":-45,"title":null,"labelPadding":1}},
       "y":{"field":"pct","type":"quantitative","stack":"zero","scale":{"domain":[0,100],"nice":false},"axis":{"values":[0,20,40,60,80,100],"title":"湖口水位频率百分比 (%)","offset":11,"labelPadding":1,"titlePadding":3}},
       "color":{"field":"band","type":"nominal","scale":{"domain":["旬均值","b1","b2","b3","b4","b5","b6","b7"],"range":["#1a1a1a","#8c0d12","#b81c24","#d8353c","#ee5a5a","#f57f7d","#f5a3a1","#f8c5c3"]},
        "legend":{"title":null,"orient":"none","legendX":309,"legendY":214,"direction":"vertical","columns":4,"columnPadding":18,"rowPadding":3,"symbolSize":64,"symbolType":"M-1,-0.875L4.75,-0.875L4.75,0.875L-1,0.875Z","labelOffset":19,"labelFontSize":11,"labelFont":"DejaVu Sans, Noto Sans CJK SC","labelColor":"#333","labelLimit":200,
         "labelExpr":"datum.label==='旬均值'?'旬均值':['0-7 m','7-10 m','10-13 m','13-16 m','16-19.5 m','19.5-22.5 m','>22.5 m'][toNumber(substring(datum.label,1))-1]",
         "encode":{"symbols":{"update":{"shape":{"signal":"datum.value==='旬均值'?'M-1,0L2.75,0M1.275,0A0.4,0.4,0,1,1,0.475,0A0.4,0.4,0,1,1,1.275,0Z':'M-1,-0.875L4.75,-0.875L4.75,0.875L-1,0.875Z'"},"fill":{"signal":"datum.value==='旬均值'?'#1a1a1a':datum.value==='b1'?'#8c0d12':datum.value==='b2'?'#b81c24':datum.value==='b3'?'#d8353c':datum.value==='b4'?'#ee5a5a':datum.value==='b5'?'#f57f7d':datum.value==='b6'?'#f5a3a1':'#f8c5c3'"},"stroke":{"signal":"datum.value==='旬均值'?'#1a1a1a':'transparent'"},"strokeWidth":{"value":1.3},"opacity":{"value":1}}}}}},
       "order":{"field":"band","type":"ordinal","sort":"ascending"}}},
     {"mark":{"type":"line","strokeWidth":1.2,"point":{"filled":true,"size":10}},
      "encoding":{
       "x":{"field":"d","type":"ordinal"},
       "y":{"field":"lv","type":"quantitative","scale":{"domain":[6,21],"nice":false,"zero":false},"axis":{"orient":"right","values":[7,9.5,12,14.5,17,19.5],"format":".1f","title":"湖口水位旬均值 (m)","titleAngle":270,"titleBaseline":"top","labelPadding":2,"titlePadding":9}},
       "color":{"datum":"旬均值","type":"nominal"}}}
    ],"resolve":{"scale":{"y":"independent"}}}
 ],"columns":2,"spacing":{"row":0,"column":134},"bounds":"flush"},
 {"hconcat":[
   {"width":422,"height":133,"data":{"name":"bars"},"transform":[{"filter":"datum.p==='c'"}],
    "title":{"text":"c)","anchor":"start","frame":"group","offset":-17,"dx":-11,"fontSize":11,"fontWeight":"bold","font":"DejaVu Sans","color":"#222"},
    "layer":[
     {"transform":[{"fold":["b1","b2","b3","b4","b5","b6","b7"],"as":["band","pct"]}],"mark":{"type":"bar"},
      "encoding":{
       "x":{"field":"d","type":"ordinal","scale":{"domain":["1月上旬","1月中旬","1月下旬","2月上旬","2月中旬","2月下旬","3月上旬","3月中旬","3月下旬","4月上旬","4月中旬","4月下旬","5月上旬","5月中旬","5月下旬","6月上旬","6月中旬","6月下旬","7月上旬","7月中旬","7月下旬","8月上旬","8月中旬","8月下旬","9月上旬","9月中旬","9月下旬","10月上旬","10月中旬","10月下旬","11月上旬","11月中旬","11月下旬","12月上旬","12月中旬","12月下旬"],"paddingInner":0.25,"paddingOuter":0},"axis":{"values":["1月上旬","1月下旬","2月中旬","3月上旬","3月下旬","4月中旬","5月上旬","5月下旬","6月中旬","7月上旬","7月下旬","8月中旬","9月上旬","9月下旬","10月中旬","11月上旬","11月下旬","12月中旬"],"labelAngle":-45,"title":null,"labelPadding":1}},
       "y":{"field":"pct","type":"quantitative","stack":"zero","scale":{"domain":[0,100],"nice":false},"axis":{"values":[0,20,40,60,80,100],"title":"都昌水位频率百分比 (%)","offset":11,"labelPadding":1,"titlePadding":3}},
       "color":{"field":"band","type":"nominal","scale":{"domain":["旬均值","b1","b2","b3","b4","b5","b6","b7"],"range":["#1a1a1a","#8c0d12","#b81c24","#d8353c","#ee5a5a","#f57f7d","#f5a3a1","#f8c5c3"]},
        "legend":{"title":null,"orient":"none","legendX":309,"legendY":184,"direction":"vertical","columns":4,"columnPadding":18,"rowPadding":3,"symbolSize":64,"symbolType":"M-1,-0.875L4.75,-0.875L4.75,0.875L-1,0.875Z","labelOffset":19,"labelFontSize":11,"labelFont":"DejaVu Sans, Noto Sans CJK SC","labelColor":"#333","labelLimit":200,
         "labelExpr":"datum.label==='旬均值'?'旬均值':['0-7 m','7-10 m','10-13 m','13-16 m','16-19 m','19-22.5 m','>22.5 m'][toNumber(substring(datum.label,1))-1]",
         "encode":{"symbols":{"update":{"shape":{"signal":"datum.value==='旬均值'?'M-1,0L2.75,0M1.275,0A0.4,0.4,0,1,1,0.475,0A0.4,0.4,0,1,1,1.275,0Z':'M-1,-0.875L4.75,-0.875L4.75,0.875L-1,0.875Z'"},"fill":{"signal":"datum.value==='旬均值'?'#1a1a1a':datum.value==='b1'?'#8c0d12':datum.value==='b2'?'#b81c24':datum.value==='b3'?'#d8353c':datum.value==='b4'?'#ee5a5a':datum.value==='b5'?'#f57f7d':datum.value==='b6'?'#f5a3a1':'#f8c5c3'"},"stroke":{"signal":"datum.value==='旬均值'?'#1a1a1a':'transparent'"},"strokeWidth":{"value":1.3},"opacity":{"value":1}}}}}},
       "order":{"field":"band","type":"ordinal","sort":"ascending"}}},
     {"mark":{"type":"line","strokeWidth":1.2,"point":{"filled":true,"size":10}},
      "encoding":{
       "x":{"field":"d","type":"ordinal"},
       "y":{"field":"lv","type":"quantitative","scale":{"domain":[6,21],"nice":false,"zero":false},"axis":{"orient":"right","values":[7,9.5,12,14.5,17,19.5],"format":".1f","title":"都昌水位旬均值 (m)","titleAngle":270,"titleBaseline":"top","labelPadding":2,"titlePadding":9}},
       "color":{"datum":"旬均值","type":"nominal"}}}
    ],"resolve":{"scale":{"y":"independent"}}},
   {"width":422,"height":133,"data":{"name":"bars"},"transform":[{"filter":"datum.p==='d'"}],
    "title":{"text":"d)","anchor":"start","frame":"group","offset":-17,"dx":-11,"fontSize":11,"fontWeight":"bold","font":"DejaVu Sans","color":"#222"},
    "layer":[
     {"transform":[{"fold":["b1","b2","b3","b4","b5","b6","b7"],"as":["band","pct"]}],"mark":{"type":"bar"},
      "encoding":{
       "x":{"field":"d","type":"ordinal","scale":{"domain":["1月上旬","1月中旬","1月下旬","2月上旬","2月中旬","2月下旬","3月上旬","3月中旬","3月下旬","4月上旬","4月中旬","4月下旬","5月上旬","5月中旬","5月下旬","6月上旬","6月中旬","6月下旬","7月上旬","7月中旬","7月下旬","8月上旬","8月中旬","8月下旬","9月上旬","9月中旬","9月下旬","10月上旬","10月中旬","10月下旬","11月上旬","11月中旬","11月下旬","12月上旬","12月中旬","12月下旬"],"paddingInner":0.25,"paddingOuter":0},"axis":{"values":["1月上旬","1月下旬","2月中旬","3月上旬","3月下旬","4月中旬","5月上旬","5月下旬","6月中旬","7月上旬","7月下旬","8月中旬","9月上旬","9月下旬","10月中旬","11月上旬","11月下旬","12月中旬"],"labelAngle":-45,"title":null,"labelPadding":1}},
       "y":{"field":"pct","type":"quantitative","stack":"zero","scale":{"domain":[0,100],"nice":false},"axis":{"values":[0,20,40,60,80,100],"title":"都昌水位频率百分比 (%)","offset":11,"labelPadding":1,"titlePadding":3}},
       "color":{"field":"band","type":"nominal","scale":{"domain":["旬均值","b1","b2","b3","b4","b5","b6","b7"],"range":["#1a1a1a","#8c0d12","#b81c24","#d8353c","#ee5a5a","#f57f7d","#f5a3a1","#f8c5c3"]},
        "legend":{"title":null,"orient":"none","legendX":309,"legendY":184,"direction":"vertical","columns":4,"columnPadding":18,"rowPadding":3,"symbolSize":64,"symbolType":"M-1,-0.875L4.75,-0.875L4.75,0.875L-1,0.875Z","labelOffset":19,"labelFontSize":11,"labelFont":"DejaVu Sans, Noto Sans CJK SC","labelColor":"#333","labelLimit":200,
         "labelExpr":"datum.label==='旬均值'?'旬均值':['0-7 m','7-10 m','10-13 m','13-16 m','16-19 m','19-22.5 m','>22.5 m'][toNumber(substring(datum.label,1))-1]",
         "encode":{"symbols":{"update":{"shape":{"signal":"datum.value==='旬均值'?'M-1,0L2.75,0M1.275,0A0.4,0.4,0,1,1,0.475,0A0.4,0.4,0,1,1,1.275,0Z':'M-1,-0.875L4.75,-0.875L4.75,0.875L-1,0.875Z'"},"fill":{"signal":"datum.value==='旬均值'?'#1a1a1a':datum.value==='b1'?'#8c0d12':datum.value==='b2'?'#b81c24':datum.value==='b3'?'#d8353c':datum.value==='b4'?'#ee5a5a':datum.value==='b5'?'#f57f7d':datum.value==='b6'?'#f5a3a1':'#f8c5c3'"},"stroke":{"signal":"datum.value==='旬均值'?'#1a1a1a':'transparent'"},"strokeWidth":{"value":1.3},"opacity":{"value":1}}}}}},
       "order":{"field":"band","type":"ordinal","sort":"ascending"}}},
     {"mark":{"type":"line","strokeWidth":1.2,"point":{"filled":true,"size":10}},
      "encoding":{
       "x":{"field":"d","type":"ordinal"},
       "y":{"field":"lv","type":"quantitative","scale":{"domain":[6,21],"nice":false,"zero":false},"axis":{"orient":"right","values":[7,9.5,12,14.5,17,19.5],"format":".1f","title":"都昌水位旬均值 (m)","titleAngle":270,"titleBaseline":"top","labelPadding":2,"titlePadding":9}},
       "color":{"datum":"旬均值","type":"nominal"}}}
    ],"resolve":{"scale":{"y":"independent"}}}
 ],"spacing":134,"bounds":"flush"},
 {"hconcat":[
   {"width":422,"height":133,"data":{"name":"bars"},"transform":[{"filter":"datum.p==='e'"}],
    "title":{"text":"e)","anchor":"start","frame":"group","offset":-17,"dx":-11,"fontSize":11,"fontWeight":"bold","font":"DejaVu Sans","color":"#222"},
    "layer":[
     {"transform":[{"fold":["b1","b2","b3","b4","b5","b6","b7"],"as":["band","pct"]}],"mark":{"type":"bar"},
      "encoding":{
       "x":{"field":"d","type":"ordinal","scale":{"domain":["1月上旬","1月中旬","1月下旬","2月上旬","2月中旬","2月下旬","3月上旬","3月中旬","3月下旬","4月上旬","4月中旬","4月下旬","5月上旬","5月中旬","5月下旬","6月上旬","6月中旬","6月下旬","7月上旬","7月中旬","7月下旬","8月上旬","8月中旬","8月下旬","9月上旬","9月中旬","9月下旬","10月上旬","10月中旬","10月下旬","11月上旬","11月中旬","11月下旬","12月上旬","12月中旬","12月下旬"],"paddingInner":0.25,"paddingOuter":0},"axis":{"values":["1月上旬","1月下旬","2月中旬","3月上旬","3月下旬","4月中旬","5月上旬","5月下旬","6月中旬","7月上旬","7月下旬","8月中旬","9月上旬","9月下旬","10月中旬","11月上旬","11月下旬","12月中旬"],"labelAngle":-45,"title":null,"labelPadding":1}},
       "y":{"field":"pct","type":"quantitative","stack":"zero","scale":{"domain":[0,100],"nice":false},"axis":{"values":[0,20,40,60,80,100],"title":"棠荫水位频率百分比 (%)","offset":11,"labelPadding":1,"titlePadding":3}},
       "color":{"field":"band","type":"nominal","scale":{"domain":["旬均值","b1","b2","b3","b4","b5","b6","b7"],"range":["#1a1a1a","#8c0d12","#b81c24","#d8353c","#ee5a5a","#f57f7d","#f5a3a1","#f8c5c3"]},
        "legend":{"title":null,"orient":"none","legendX":309,"legendY":189,"direction":"vertical","columns":4,"columnPadding":18,"rowPadding":3,"symbolSize":64,"symbolType":"M-1,-0.875L4.75,-0.875L4.75,0.875L-1,0.875Z","labelOffset":19,"labelFontSize":11,"labelFont":"DejaVu Sans, Noto Sans CJK SC","labelColor":"#333","labelLimit":200,
         "labelExpr":"datum.label==='旬均值'?'旬均值':['0-7 m','7-10 m','10-13 m','13-16 m','16-19 m','19-22.5 m','>22.5 m'][toNumber(substring(datum.label,1))-1]",
         "encode":{"symbols":{"update":{"shape":{"signal":"datum.value==='旬均值'?'M-1,0L2.75,0M1.275,0A0.4,0.4,0,1,1,0.475,0A0.4,0.4,0,1,1,1.275,0Z':'M-1,-0.875L4.75,-0.875L4.75,0.875L-1,0.875Z'"},"fill":{"signal":"datum.value==='旬均值'?'#1a1a1a':datum.value==='b1'?'#8c0d12':datum.value==='b2'?'#b81c24':datum.value==='b3'?'#d8353c':datum.value==='b4'?'#ee5a5a':datum.value==='b5'?'#f57f7d':datum.value==='b6'?'#f5a3a1':'#f8c5c3'"},"stroke":{"signal":"datum.value==='旬均值'?'#1a1a1a':'transparent'"},"strokeWidth":{"value":1.3},"opacity":{"value":1}}}}}},
       "order":{"field":"band","type":"ordinal","sort":"ascending"}}},
     {"mark":{"type":"line","strokeWidth":1.2,"point":{"filled":true,"size":10}},
      "encoding":{
       "x":{"field":"d","type":"ordinal"},
       "y":{"field":"lv","type":"quantitative","scale":{"domain":[6,21],"nice":false,"zero":false},"axis":{"orient":"right","values":[7,9.5,12,14.5,17,19.5],"format":".1f","title":"棠荫水位旬均值 (m)","titleAngle":270,"titleBaseline":"top","labelPadding":2,"titlePadding":9}},
       "color":{"datum":"旬均值","type":"nominal"}}}
    ],"resolve":{"scale":{"y":"independent"}}},
   {"width":422,"height":133,"data":{"name":"bars"},"transform":[{"filter":"datum.p==='f'"}],
    "title":{"text":"f)","anchor":"start","frame":"group","offset":-17,"dx":-11,"fontSize":11,"fontWeight":"bold","font":"DejaVu Sans","color":"#222"},
    "layer":[
     {"transform":[{"fold":["b1","b2","b3","b4","b5","b6","b7"],"as":["band","pct"]}],"mark":{"type":"bar"},
      "encoding":{
       "x":{"field":"d","type":"ordinal","scale":{"domain":["1月上旬","1月中旬","1月下旬","2月上旬","2月中旬","2月下旬","3月上旬","3月中旬","3月下旬","4月上旬","4月中旬","4月下旬","5月上旬","5月中旬","5月下旬","6月上旬","6月中旬","6月下旬","7月上旬","7月中旬","7月下旬","8月上旬","8月中旬","8月下旬","9月上旬","9月中旬","9月下旬","10月上旬","10月中旬","10月下旬","11月上旬","11月中旬","11月下旬","12月上旬","12月中旬","12月下旬"],"paddingInner":0.25,"paddingOuter":0},"axis":{"values":["1月上旬","1月下旬","2月中旬","3月上旬","3月下旬","4月中旬","5月上旬","5月下旬","6月中旬","7月上旬","7月下旬","8月中旬","9月上旬","9月下旬","10月中旬","11月上旬","11月下旬","12月中旬"],"labelAngle":-45,"title":null,"labelPadding":1}},
       "y":{"field":"pct","type":"quantitative","stack":"zero","scale":{"domain":[0,100],"nice":false},"axis":{"values":[0,20,40,60,80,100],"title":"棠荫水位频率百分比 (%)","offset":11,"labelPadding":1,"titlePadding":3}},
       "color":{"field":"band","type":"nominal","scale":{"domain":["旬均值","b1","b2","b3","b4","b5","b6","b7"],"range":["#1a1a1a","#8c0d12","#b81c24","#d8353c","#ee5a5a","#f57f7d","#f5a3a1","#f8c5c3"]},
        "legend":{"title":null,"orient":"none","legendX":309,"legendY":189,"direction":"vertical","columns":4,"columnPadding":18,"rowPadding":3,"symbolSize":64,"symbolType":"M-1,-0.875L4.75,-0.875L4.75,0.875L-1,0.875Z","labelOffset":19,"labelFontSize":11,"labelFont":"DejaVu Sans, Noto Sans CJK SC","labelColor":"#333","labelLimit":200,
         "labelExpr":"datum.label==='旬均值'?'旬均值':['0-7 m','7-10 m','10-13 m','13-16 m','16-19 m','19-22.5 m','>22.5 m'][toNumber(substring(datum.label,1))-1]",
         "encode":{"symbols":{"update":{"shape":{"signal":"datum.value==='旬均值'?'M-1,0L2.75,0M1.275,0A0.4,0.4,0,1,1,0.475,0A0.4,0.4,0,1,1,1.275,0Z':'M-1,-0.875L4.75,-0.875L4.75,0.875L-1,0.875Z'"},"fill":{"signal":"datum.value==='旬均值'?'#1a1a1a':datum.value==='b1'?'#8c0d12':datum.value==='b2'?'#b81c24':datum.value==='b3'?'#d8353c':datum.value==='b4'?'#ee5a5a':datum.value==='b5'?'#f57f7d':datum.value==='b6'?'#f5a3a1':'#f8c5c3'"},"stroke":{"signal":"datum.value==='旬均值'?'#1a1a1a':'transparent'"},"strokeWidth":{"value":1.3},"opacity":{"value":1}}}}}},
       "order":{"field":"band","type":"ordinal","sort":"ascending"}}},
     {"mark":{"type":"line","strokeWidth":1.2,"point":{"filled":true,"size":10}},
      "encoding":{
       "x":{"field":"d","type":"ordinal"},
       "y":{"field":"lv","type":"quantitative","scale":{"domain":[6,21],"nice":false,"zero":false},"axis":{"orient":"right","values":[7,9.5,12,14.5,17,19.5],"format":".1f","title":"棠荫水位旬均值 (m)","titleAngle":270,"titleBaseline":"top","labelPadding":2,"titlePadding":9}},
       "color":{"datum":"旬均值","type":"nominal"}}}
    ],"resolve":{"scale":{"y":"independent"}}}
 ],"spacing":134,"bounds":"flush"}
],"spacing":12,"resolve":{"scale":{"color":"independent"},"legend":{"color":"independent"}}
}
